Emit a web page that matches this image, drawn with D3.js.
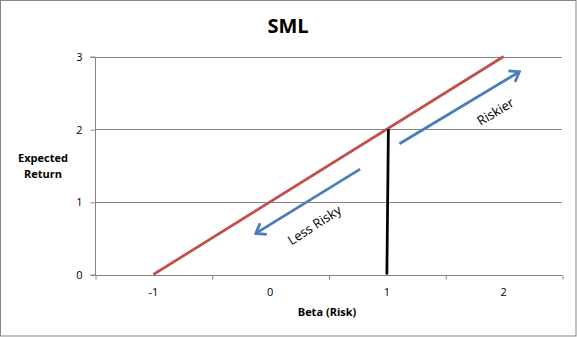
<!DOCTYPE html>
<html>
<head>
<meta charset="utf-8">
<script src="https://cdn.jsdelivr.net/npm/d3@7"></script>
<style>
  body { margin: 0; background: #fff; }
  svg { display: block; font-family: "Open Sans", "Noto Sans", sans-serif; }
</style>
</head>
<body>
<svg width="577" height="337"></svg>
<script>
const svg = d3.select("svg"),
    width = +svg.attr("width"),
    height = +svg.attr("height");

// data
const smlLine = [[-1, 0], [2, 3]];
const betaOne = [[1, 0], [1.013, 2]];
const arrows = [
    {name: "Riskier", from: [1.108, 1.80], to: [2.135, 2.79]},
    {name: "Less Risky", from: [0.771, 1.45], to: [-0.123, 0.565]}
];
const arrowLabels = [
    {text: "Riskier", at: [1.93, 2.24], angle: -31},
    {text: "Less Risky", at: [0.38, 0.68], angle: -33}
];
const xTickLabels = [-1, 0, 1, 2];
const xTickMarks = [-1.5, -0.5, 0.5, 1.5, 2.5];
const yTicks = [0, 1, 2, 3];

const grey = "#868686";
const blue = "#4a7ebb";
const margin = {left: 95, right: 15, top: 56.5, bottom: 62.5};

const x = d3.scaleLinear().domain([-1.5, 2.5]).range([margin.left, width - margin.right]);
const y = d3.scaleLinear().domain([0, 3]).range([height - margin.bottom, margin.top]);

// chart border
svg.append("rect")
    .attr("x", 0.5).attr("y", 0.5)
    .attr("width", width - 1.5).attr("height", height - 1.5)
    .attr("fill", "#fff")
    .attr("stroke", grey);

// gridlines
svg.append("g")
    .selectAll("line")
    .data(yTicks.filter(d => d > 0))
    .join("line")
    .attr("x1", margin.left).attr("x2", width - margin.right)
    .attr("y1", d => Math.round(y(d)) + 0.5).attr("y2", d => Math.round(y(d)) + 0.5)
    .attr("stroke", grey);

// y axis
const yAxis = svg.append("g")
    .attr("transform", `translate(${margin.left + 0.5},0.5)`)
    .call(d3.axisLeft(y).tickValues(yTicks).tickSize(5).tickPadding(8).tickFormat(d3.format("d")));
yAxis.select(".domain").attr("stroke", grey).attr("d", `M-5,${y(3)}H0V${y(0)}H-5`);
yAxis.selectAll(".tick line").attr("stroke", grey);
yAxis.selectAll(".tick text").attr("font-size", 11).attr("fill", "#000").attr("font-family", "Open Sans");

// x axis
const xAxis = svg.append("g")
    .attr("transform", `translate(0.5,${Math.round(y(0)) + 0.5})`)
    .call(d3.axisBottom(x).tickValues(xTickMarks).tickSize(4).tickFormat(""));
xAxis.select(".domain").attr("stroke", grey).attr("d", `M${x(-1.5)},0H${x(2.5)}`);
xAxis.selectAll(".tick line").attr("stroke", grey);
svg.append("g")
    .selectAll("text")
    .data(xTickLabels)
    .join("text")
    .attr("x", d => x(d))
    .attr("y", 296)
    .attr("text-anchor", "middle")
    .attr("font-size", 11)
    .text(d => d);

const line = d3.line().x(d => x(d[0])).y(d => y(d[1]));

// SML
svg.append("path")
    .datum(smlLine)
    .attr("d", line)
    .attr("fill", "none")
    .attr("stroke", "#c0504d")
    .attr("stroke-width", 2.75);

// beta = 1
svg.append("path")
    .datum(betaOne)
    .attr("d", line)
    .attr("fill", "none")
    .attr("stroke", "#000")
    .attr("stroke-width", 2.75);

// arrows
svg.append("defs").append("marker")
    .attr("id", "open-arrow")
    .attr("viewBox", "-12 -8 14 16")
    .attr("refX", 0)
    .attr("refY", 0)
    .attr("markerWidth", 14)
    .attr("markerHeight", 16)
    .attr("markerUnits", "userSpaceOnUse")
    .attr("orient", "auto")
    .append("path")
    .attr("d", "M-9,-6.5L0,0L-9,6.5")
    .attr("fill", "none")
    .attr("stroke", blue)
    .attr("stroke-width", 2.75)
    .attr("stroke-linejoin", "miter");

svg.append("g")
    .selectAll("path")
    .data(arrows)
    .join("path")
    .attr("d", d => line([d.from, d.to]))
    .attr("fill", "none")
    .attr("stroke", blue)
    .attr("stroke-width", 2.75)
    .attr("marker-end", "url(#open-arrow)");

svg.append("g")
    .selectAll("text")
    .data(arrowLabels)
    .join("text")
    .attr("transform", d => `translate(${x(d.at[0])},${y(d.at[1])}) rotate(${d.angle})`)
    .attr("text-anchor", "middle")
    .attr("dy", "0.35em")
    .attr("font-size", 13)
    .text(d => d.text);

// titles
svg.append("text")
    .attr("x", 288).attr("y", 33)
    .attr("text-anchor", "middle")
    .attr("font-size", 20)
    .attr("font-weight", "bold")
    .text("SML");

svg.append("text")
    .attr("x", 43).attr("y", 162)
    .attr("text-anchor", "middle")
    .attr("font-size", 11)
    .attr("font-weight", "bold")
    .selectAll("tspan")
    .data(["Expected", "Return"])
    .join("tspan")
    .attr("x", 43)
    .attr("dy", (d, i) => i ? 16 : 0)
    .text(d => d);

svg.append("text")
    .attr("x", 327).attr("y", 316)
    .attr("text-anchor", "middle")
    .attr("font-size", 11)
    .attr("font-weight", "bold")
    .text("Beta (Risk)");
</script>
</body>
</html>
